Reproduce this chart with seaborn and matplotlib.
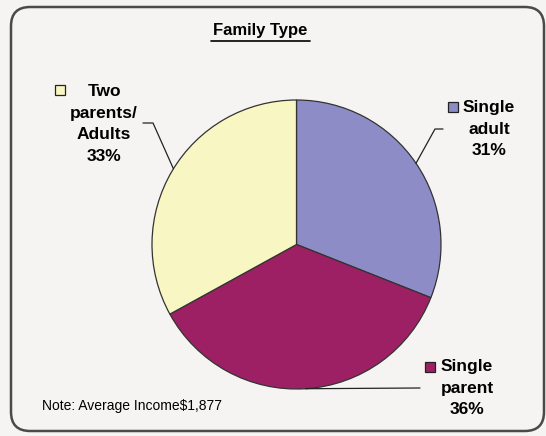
import numpy as np
import matplotlib
matplotlib.use("Agg")
import matplotlib.pyplot as plt
from matplotlib.patches import FancyBboxPatch, Rectangle
from matplotlib.lines import Line2D
import seaborn as sns

sns.set_style("white")
plt.rcParams['font.family'] = ['Liberation Sans', 'DejaVu Sans']
plt.rcParams['text.color'] = 'black'

# data
categories = ["Single adult", "Single parent", "Two parents/ Adults"]
shares = [31, 36, 33]
colors = ["#8e8cc6", "#9e2064", "#f8f6c2"]
label_texts = ["Single\nadult\n31%", "Single\nparent\n36%", "Two\nparents/\nAdults\n33%"]
title = "Family Type"
note = "Note: Average Income$1,877"

W, H = 546, 436
fig = plt.figure(figsize=(W / 100, H / 100), dpi=100)
fig.patch.set_facecolor("#f5f4f2")

def fx(px):
    return px / W

def fy(py):
    return 1 - py / H

# rounded frame
frame = FancyBboxPatch((fx(11), fy(431)), fx(544) - fx(11), fy(7) - fy(431),
                       boxstyle="round,pad=0,rounding_size=0.035",
                       transform=fig.transFigure, facecolor="#f5f4f2",
                       edgecolor="#4a4a4a", linewidth=1.8, mutation_aspect=W / H,
                       zorder=-1)
fig.patches.append(frame)

# pie
ax = fig.add_axes([fx(152), fy(389), fx(441) - fx(152), fy(100) - fy(389)])
ax.set_zorder(1)
wedges, _ = ax.pie(shares, colors=colors, startangle=90, counterclock=False,
                   wedgeprops=dict(edgecolor="#333333", linewidth=0.9))
ax.set_xlim(-1, 1)
ax.set_ylim(-1, 1)
ax.set_aspect("equal")
ax.axis("off")

# label positions (pixels) : text center, marker, leader elbow
text_pos = [(489, 129), (467, 388), (104, 124)]
marker_pos = [(453, 107), (430, 367), (60, 90)]
elbows = [[(443, 129), (435, 129)], [(420, 388)], [(143, 123), (153, 123)]]
edge_angle_offsets = [0, 0, -1]

for i, w in enumerate(wedges):
    fig.text(fx(text_pos[i][0]), fy(text_pos[i][1]), label_texts[i],
             ha="center", va="center", fontsize=12.5, fontweight="bold",
             linespacing=1.57, zorder=3)
    mx, my = marker_pos[i]
    fig.patches.append(Rectangle((fx(mx - 5), fy(my + 5)), fx(10), 10 / H,
                                 transform=fig.transFigure, facecolor=colors[i],
                                 edgecolor="#222222", linewidth=0.9, zorder=3))
    ang = np.deg2rad((w.theta1 + w.theta2) / 2 + edge_angle_offsets[i])
    ex, ey = ax.transData.transform((np.cos(ang), np.sin(ang)))
    pts = [(fx(px), fy(py)) for px, py in elbows[i]] + [fig.transFigure.inverted().transform((ex, ey))]
    xs = [p[0] for p in pts]
    ys = [p[1] for p in pts]
    fig.lines.append(Line2D(xs, ys, transform=fig.transFigure, color="#222222",
                            linewidth=0.9, zorder=3))

# title
fig.text(fx(260), fy(30), title, ha="center", va="center", fontsize=12,
         fontweight="bold")
fig.lines.append(Line2D([fx(211), fx(310)], [fy(41), fy(41)], transform=fig.transFigure,
                        color="black", linewidth=1.2))

fig.text(fx(42), fy(406), note, ha="left", va="center", fontsize=10)

fig.savefig("out.png", dpi=100, facecolor=fig.get_facecolor())
